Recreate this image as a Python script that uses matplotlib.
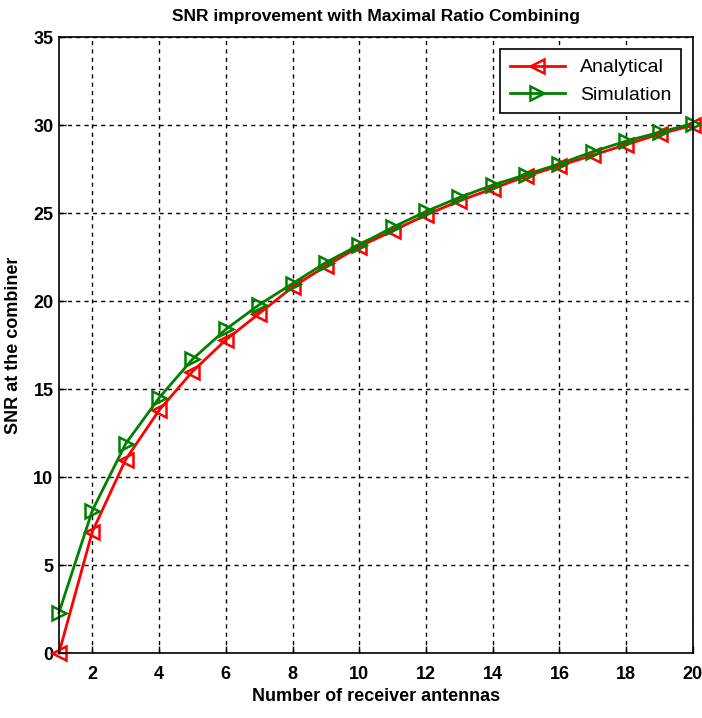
import matplotlib.pyplot as plt
import numpy as np

plt.rcParams['font.family'] = ['Liberation Sans Narrow', 'Liberation Sans', 'DejaVu Sans']

# data
antennas = np.arange(1, 21)
analytical = [0.0, 6.9, 11.0, 13.8, 16.0, 17.8, 19.3, 20.8, 22.0, 23.1,
              24.0, 24.9, 25.7, 26.4, 27.1, 27.7, 28.3, 28.9, 29.5, 30.0]
simulation = [2.3, 8.1, 11.9, 14.5, 16.7, 18.4, 19.8, 21.0, 22.2, 23.2,
              24.2, 25.1, 25.9, 26.6, 27.2, 27.8, 28.5, 29.1, 29.6, 30.1]

fig = plt.figure(figsize=(7.02, 7.18), dpi=100)
ax = fig.add_axes([0.084, 0.0905, 0.903, 0.8575])

ax.plot(antennas, analytical, color='red', lw=2, marker='<', ms=10,
        mfc='none', mew=1.8, label='Analytical', clip_on=False)
ax.plot(antennas, simulation, color='#008000', lw=2, marker='>', ms=10,
        mfc='none', mew=1.8, label='Simulation', clip_on=False)

ax.set_xlim(1, 20)
ax.set_ylim(0, 35)
ax.set_xticks(np.arange(2, 21, 2))
ax.set_yticks(np.arange(0, 36, 5))
ax.tick_params(direction='in', length=5, labelsize=13, width=1)
ax.tick_params(axis='x', pad=9)
ax.tick_params(axis='y', pad=4)
for lab in ax.get_xticklabels() + ax.get_yticklabels():
    lab.set_fontweight('bold')

ax.grid(True, color='black', linestyle=(0, (3, 3)), linewidth=1)
for s in ax.spines.values():
    s.set_linewidth(1.2)

ax.set_title('SNR improvement with Maximal Ratio Combining',
             fontsize=12.5, fontweight='bold', pad=12)
ax.set_xlabel('Number of receiver antennas', fontsize=13, fontweight='bold',
              labelpad=4)
ax.set_ylabel('SNR at the combiner', fontsize=13, fontweight='bold',
              labelpad=8)

leg = ax.legend(loc='upper right', fontsize=14, fancybox=False,
                edgecolor='black', framealpha=1, handlelength=2.8,
                borderaxespad=0.6, borderpad=0.5)
leg.get_frame().set_linewidth(1.2)

fig.savefig('out.png', dpi=100)
